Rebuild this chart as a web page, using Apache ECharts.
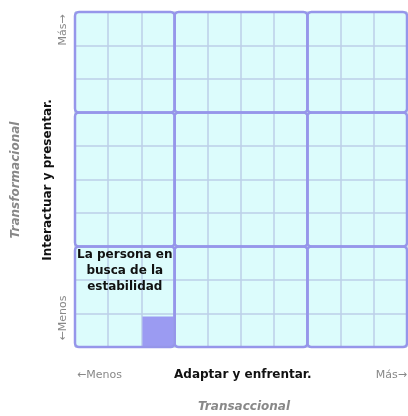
<!DOCTYPE html>
<html>
<head>
<meta charset="utf-8">
<script src="https://cdn.jsdelivr.net/npm/echarts@6/dist/echarts.min.js"></script>
<style>
  html, body { margin: 0; padding: 0; background: #fff; }
  #main { width: 408px; height: 416px; }
</style>
</head>
<body>
<div id="main"></div>
<script>
// bloques grandes: [x0, x1, y0, y1] en unidades de celda
const blockCols = [[0, 3], [3, 7], [7, 10]];
const blockRows = [[0, 3], [3, 7], [7, 10]];
// celda resaltada [col, fila]
const filledCells = [[2, 0]];
// etiqueta dentro del bloque inferior izquierdo
const cellLabels = [[1.5, 2.27, 'La persona en\nbusca de la\nestabilidad']];
const tickMin = 0, tickMax = 10;

const blocks = [];
blockRows.forEach(r => blockCols.forEach(c => blocks.push([c[0], c[1], r[0], r[1]])));

const FILL = '#dcfcfc';
const BORDER = '#9696ea';
const THIN = '#bccfe9';
const FONT = 'DejaVu Sans';

const chart = echarts.init(document.getElementById('main'));

function rectOf(api, d) {
  const p0 = api.coord([d[0], d[3]]);
  const p1 = api.coord([d[1], d[2]]);
  return { x: p0[0], y: p0[1], width: p1[0] - p0[0], height: p1[1] - p0[1] };
}

const option = {
  animation: false,
  grid: { left: 75, right: 1, top: 12, bottom: 69 },
  xAxis: {
    type: 'value', min: tickMin, max: tickMax, interval: 1, z: 2,
    axisLine: { show: false }, axisTick: { show: false }, axisLabel: { show: false },
    splitLine: { show: true, lineStyle: { color: THIN, width: 1.5 } }
  },
  yAxis: {
    type: 'value', min: tickMin, max: tickMax, interval: 1, z: 2,
    axisLine: { show: false }, axisTick: { show: false }, axisLabel: { show: false },
    splitLine: { show: true, lineStyle: { color: THIN, width: 1.5 } }
  },
  series: [
    {
      // fondo completo, para que las uniones entre bloques queden rellenas
      type: 'custom', z: 1, silent: true,
      data: [[tickMin, tickMax, tickMin, tickMax]],
      renderItem: (params, api) => {
        const r = rectOf(api, [tickMin, tickMax, tickMin, tickMax]);
        return { type: 'rect', shape: Object.assign(r, { r: 5 }), style: { fill: FILL } };
      }
    },
    {
      type: 'custom', z: 4, silent: true,
      data: filledCells,
      renderItem: (params, api) => {
        const c = filledCells[params.dataIndex];
        const r = rectOf(api, [c[0], c[0] + 1, c[1], c[1] + 1]);
        return { type: 'rect', shape: { x: r.x + 1, y: r.y + 3, width: r.width - 2, height: r.height - 4 }, style: { fill: '#9b9bf2' } };
      }
    },
    {
      type: 'custom', z: 5, silent: true,
      data: blocks,
      renderItem: (params, api) => {
        const d = blocks[params.dataIndex];
        return { type: 'rect', shape: Object.assign(rectOf(api, d), { r: 4 }), style: { fill: null, stroke: BORDER, lineWidth: 2.5 } };
      }
    },
    {
      type: 'custom', z: 6, silent: true,
      data: cellLabels,
      renderItem: (params, api) => {
        const l = cellLabels[params.dataIndex];
        const p = api.coord([l[0], l[1]]);
        return {
          type: 'text', x: p[0], y: p[1],
          style: { text: l[2], fill: '#111', font: 'bold 12px ' + FONT, align: 'center', verticalAlign: 'middle', lineHeight: 16 }
        };
      }
    }
  ],
  graphic: [
    { type: 'text', left: 174, top: 369, style: { text: 'Adaptar y enfrentar.', font: 'bold 12px ' + FONT, fill: '#111' } },
    { type: 'text', left: 77, top: 370, style: { text: '←Menos', font: '11px ' + FONT, fill: '#888' } },
    { type: 'text', right: 1, top: 370, style: { text: 'Más→', font: '11px ' + FONT, fill: '#888' } },
    { type: 'text', left: 198, top: 401, style: { text: 'Transaccional', font: 'italic bold 12px ' + FONT, fill: '#888' } },
    { type: 'text', x: 48, y: 180, rotation: Math.PI / 2, style: { text: 'Interactuar y presentar.', font: 'bold 12px ' + FONT, fill: '#111', align: 'center', verticalAlign: 'middle' } },
    { type: 'text', x: 16, y: 180, rotation: Math.PI / 2, style: { text: 'Transformacional', font: 'italic bold 12px ' + FONT, fill: '#888', align: 'center', verticalAlign: 'middle' } },
    { type: 'text', x: 63, y: 30, rotation: Math.PI / 2, style: { text: 'Más→', font: '11px ' + FONT, fill: '#888', align: 'center', verticalAlign: 'middle' } },
    { type: 'text', x: 63, y: 318, rotation: Math.PI / 2, style: { text: '←Menos', font: '11px ' + FONT, fill: '#888', align: 'center', verticalAlign: 'middle' } }
  ]
};

chart.setOption(option);
</script>
</body>
</html>
